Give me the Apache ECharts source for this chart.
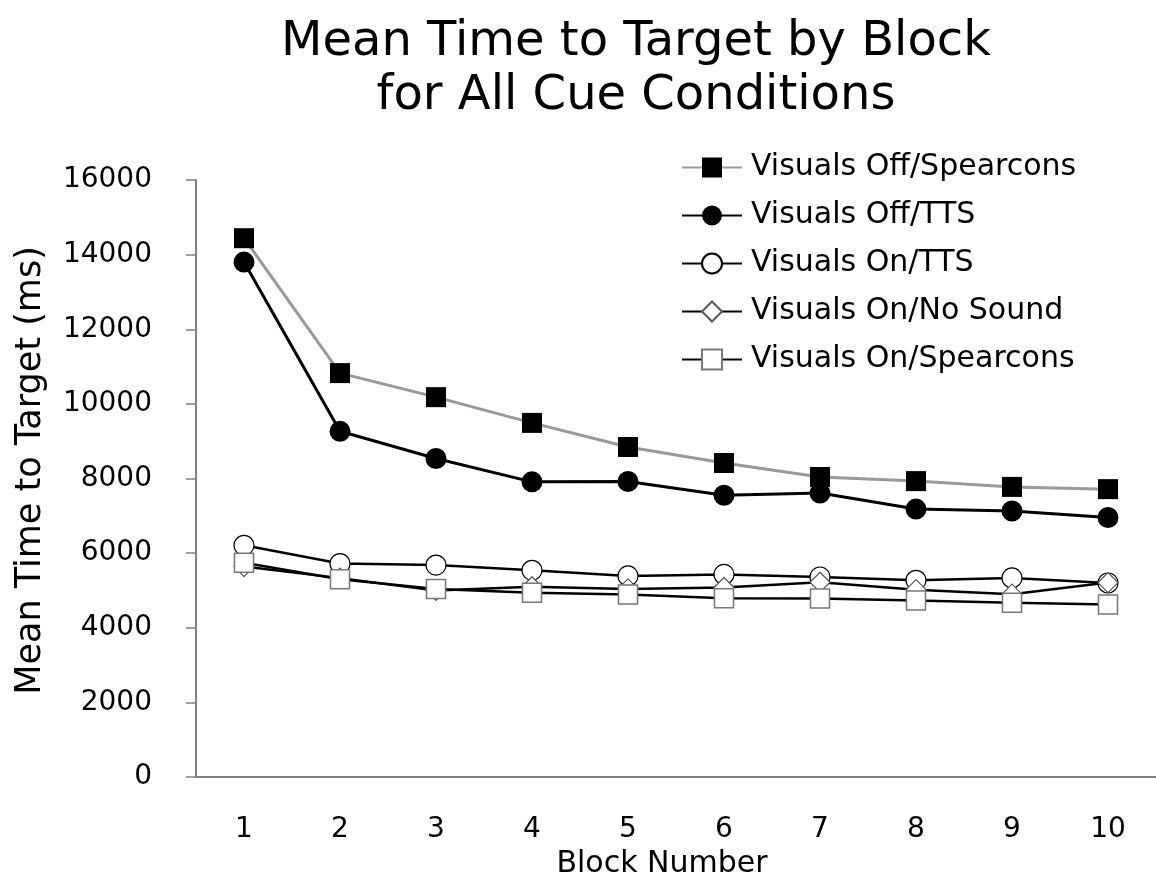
<!DOCTYPE html>
<html>
<head>
<meta charset="utf-8">
<title>Mean Time to Target by Block</title>
<script src="https://cdn.jsdelivr.net/npm/echarts@6/dist/echarts.min.js"></script>
<style>
  html, body { margin: 0; padding: 0; background: #fff; }
  #chart { width: 1156px; height: 876px; }
</style>
</head>
<body>
<div id="chart"></div>
<script>
// block numbers on the x axis
const blocks = ['1', '2', '3', '4', '5', '6', '7', '8', '9', '10']
const yTicks = [0, 2000, 4000, 6000, 8000, 10000, 12000, 14000, 16000]

// mean time to target (ms)
const visualsOffSpearcons = [14440, 10825, 10180, 9490, 8845, 8415, 8040, 7930, 7775, 7715]
const visualsOffTTS = [13800, 9265, 8535, 7910, 7920, 7550, 7610, 7180, 7130, 6955]
const visualsOnTTS = [6210, 5720, 5680, 5540, 5390, 5430, 5360, 5270, 5335, 5200]
const visualsOnNoSound = [5640, 5330, 5000, 5100, 5040, 5080, 5220, 5020, 4900, 5210]
const visualsOnSpearcons = [5740, 5300, 5040, 4940, 4890, 4790, 4785, 4730, 4670, 4620]

const font = 'DejaVu Sans'

const chart = echarts.init(document.getElementById('chart'))
chart.setOption({
  animation: false,
  backgroundColor: '#fff',
  textStyle: { fontFamily: font, color: '#000' },
  title: {
    text: 'Mean Time to Target by Block\nfor All Cue Conditions',
    left: 636,
    top: 16,
    padding: 0,
    textAlign: 'center',
    textStyle: {
      fontFamily: font,
      fontWeight: 'normal',
      fontSize: 48,
      lineHeight: 54,
      color: '#000'
    }
  },
  legend: {
    orient: 'vertical',
    left: 676,
    top: 147,
    padding: 5,
    itemWidth: 60,
    itemHeight: 25,
    itemGap: 17,
    selectedMode: false,
    textStyle: {
      fontFamily: font,
      fontSize: 30,
      lineHeight: 31,
      color: '#000',
      padding: [0, 0, 0, 4]
    },
    data: ['Visuals Off/Spearcons', 'Visuals Off/TTS', 'Visuals On/TTS', 'Visuals On/No Sound', 'Visuals On/Spearcons']
  },
  grid: {
    left: 196,
    right: 0,
    top: 180,
    bottom: 99,
    containLabel: false,
    outerBoundsMode: 'none'
  },
  xAxis: {
    type: 'category',
    data: blocks,
    boundaryGap: true,
    name: 'Block Number',
    nameLocation: 'middle',
    nameGap: 70,
    nameTextStyle: { fontFamily: font, fontSize: 30, color: '#000', padding: [0, 28, 0, 0] },
    axisLine: { lineStyle: { color: '#808080', width: 2 } },
    axisTick: { show: false },
    axisLabel: { fontFamily: font, fontSize: 28, color: '#000', margin: 39 },
    splitLine: { show: false }
  },
  yAxis: {
    type: 'value',
    min: yTicks[0],
    max: yTicks[yTicks.length - 1],
    interval: 2000,
    name: 'Mean Time to Target (ms)',
    nameLocation: 'middle',
    nameGap: 148,
    nameRotate: 90,
    nameTextStyle: { fontFamily: font, fontSize: 35, color: '#000', padding: [0, 0, 0, 16] },
    axisLine: { show: true, lineStyle: { color: '#808080', width: 2 } },
    axisTick: { show: true, inside: false, length: 10, lineStyle: { color: '#808080', width: 1.5 } },
    axisLabel: {
      fontFamily: font,
      fontSize: 28,
      color: '#000',
      margin: 44,
      formatter: (v) => String(v)
    },
    splitLine: { show: false }
  },
  series: [
    {
      name: 'Visuals Off/Spearcons',
      type: 'line',
      data: visualsOffSpearcons,
      symbol: 'rect',
      symbolSize: 20,
      lineStyle: { color: '#999999', width: 3 },
      itemStyle: { color: '#000', borderWidth: 0 }
    },
    {
      name: 'Visuals Off/TTS',
      type: 'line',
      data: visualsOffTTS,
      symbol: 'circle',
      symbolSize: 21,
      lineStyle: { color: '#000', width: 3 },
      itemStyle: { color: '#000', borderWidth: 0 }
    },
    {
      name: 'Visuals On/TTS',
      type: 'line',
      data: visualsOnTTS,
      symbol: 'circle',
      symbolSize: 20,
      lineStyle: { color: '#000', width: 2.5 },
      itemStyle: { color: '#fff', borderColor: '#000', borderWidth: 1.2 }
    },
    {
      name: 'Visuals On/No Sound',
      type: 'line',
      data: visualsOnNoSound,
      symbol: 'diamond',
      symbolSize: 20,
      lineStyle: { color: '#000', width: 2.5 },
      itemStyle: { color: '#fff', borderColor: '#555', borderWidth: 1.2 }
    },
    {
      name: 'Visuals On/Spearcons',
      type: 'line',
      data: visualsOnSpearcons,
      symbol: 'rect',
      symbolSize: 19,
      lineStyle: { color: '#000', width: 2.5 },
      itemStyle: { color: '#fff', borderColor: '#777', borderWidth: 1.5 }
    }
  ]
})
</script>
</body>
</html>
